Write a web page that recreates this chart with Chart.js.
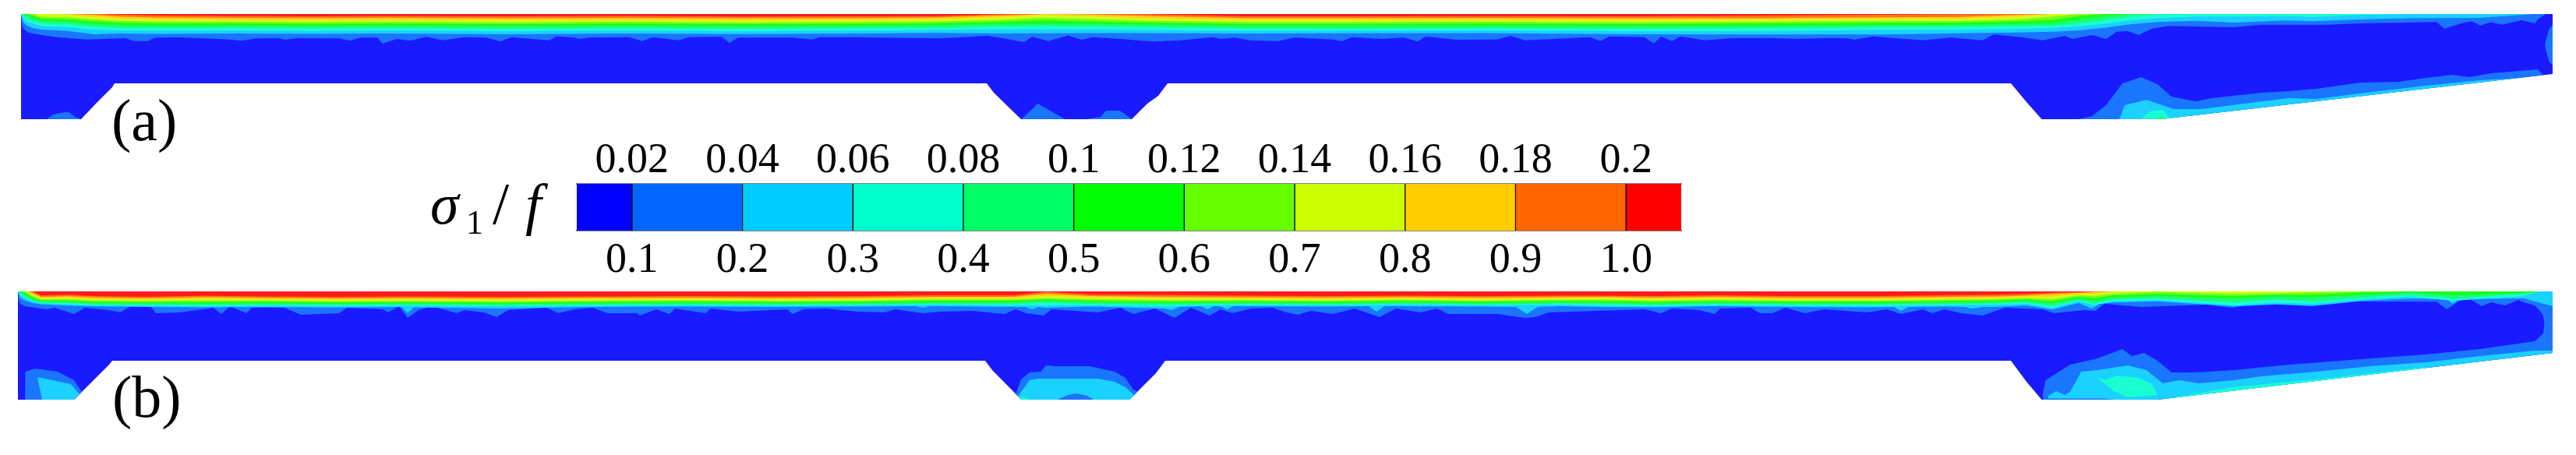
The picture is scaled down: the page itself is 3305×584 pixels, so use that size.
<!DOCTYPE html>
<html>
<head>
<meta charset="utf-8">
<style>
  html, body { margin: 0; padding: 0; background: #fff; }
  #wrap { position: relative; width: 3305px; height: 584px; overflow: hidden; }
  canvas { position: absolute; }
  #field { left: 0; top: 0; }
  #bar { left: 500px; top: 170px; }
</style>
<script src="https://cdn.jsdelivr.net/npm/chart.js@4"></script>
</head>
<body>
<div id="wrap">
  <canvas id="field" width="3305" height="584"></canvas>
  <canvas id="bar" width="1757" height="192"></canvas>
</div>
<script>
// colour levels, low to high
const barColors = ['#0000ff','#0066ff','#00ccff','#00ffcc','#00ff66','#00ff00','#66ff00','#ccff00','#ffcc00','#ff6600','#ff0000'];
const fieldColors = ['#1a1aff','#1a75ff','#1ad1ff','#1affd1','#1aff75','#1aff1a','#75ff1a','#d1ff1a','#ffd11a','#ff751a','#ff1a1a'];
const barEdges = [0.01,0.02,0.04,0.06,0.08,0.1,0.12,0.14,0.16,0.18,0.2,0.21];
const topTicks = [0.02,0.04,0.06,0.08,0.1,0.12,0.14,0.16,0.18,0.2];
const topLabels = ['0.02','0.04','0.06','0.08','0.1','0.12','0.14','0.16','0.18','0.2'];
const bottomTicks = [0.1,0.2,0.3,0.4,0.5,0.6,0.7,0.8,0.9,1.0];
const bottomLabels = ['0.1','0.2','0.3','0.4','0.5','0.6','0.7','0.8','0.9','1.0'];

// panel (a) outline
const topA = 18;
const edgeAX = [27,104,123,144,147,1266,1275,1310,1452,1472,1486,1498,2580,2600,2619.5,2772,3275];
const edgeAY = [153,153,133,112,107,107,119,153,153,133,123,107,107,131,153,153,95];

// panel (a) contours, y at each station, from the top band down
const stationsA = [27,30,35,42,53,87,120,153,200,300,400,500,650,800,950,1100,1200,1280,1338,1400,1470,1600,1731,1900,2100,2270,2410,2516,2586,2633,2667,2700,2733,2767,2817,2867,2933,2967,3033,3100,3180,3252,3275];
const redA    = [18,18,18,18,18,18,18,18.7,20,20.5,21,20.5,21,20.6,21.2,21,20.8,18.5,18,18,18.3,21,21,20.7,21,20,19,18.3,18,18,18,18,18,18,18,18,18,18,18,18,18,18,18];
const orangeA = [18,18,18,18,18,18,19,21.3,22.5,23,23.3,22.8,23.5,23,23.6,23.2,22.5,20,18,18.5,20.5,23.3,23.3,23,23.5,23.3,22.3,21.7,19.3,18,18,18,18,18,18,18,18,18,18,18,18,18,18];
const amberA  = [18,18,18,18,18,18.7,22,24,25,25.7,26,25.5,26.3,25.8,26.2,26,25,22.5,19.3,21,23.5,26,26,25.6,26,25,24.3,24,21.7,18,18,18,18,18,18,18,18,18,18,18,18,18,18];
const yellowA = [18,18,18,18,21.5,22.3,24.7,26.7,27.5,28,28.5,28,28.7,28,28.7,28.3,27.5,25.5,22.7,24.5,26.5,28.3,28.3,28,28.5,27.7,26.7,26.7,25,21.3,18,18,18,18,18,18,18,18,18,18,18,18,18];
const limeA   = [18,18,18,20,24,25,27.3,29.3,30,30,30.7,30.3,31,30.3,31,30.7,29.7,28,26,27.5,29,30.7,30.7,30.3,31,30,29.3,29,27.3,25.7,20.7,18,18,18,18,18,18,18,18,18,18,18,18];
const greenA  = [18,18,20,23,26.7,28,30.7,32.3,33,33,33.5,33,33.7,33,33.7,33.3,32.5,31,30.7,30.5,31.5,33.3,33.3,33,33.7,33.3,32.3,31.7,30.7,29.7,25,21.3,18,18,18,18,18,18,18,18,18,18,18];
const springA = [18,20,24,27,30,30.7,34,35.7,36,35.7,36.3,35.8,36.7,36,36.7,36,35.5,34,33,33.8,34.5,36.5,36.7,36,36.7,36,35,34.3,33.3,33,29.7,25.7,21.3,18.7,18,18,18,18,18,18,18,18,18];
const aquaA   = [18,24,28,30,33.3,34.7,38,39,39.5,39,39.7,39,40,39.3,40,39.3,38.5,37.7,37.7,38,38.5,39.5,39.3,39,40,40,38.3,38.3,37.3,35.7,34,30.7,26.3,23.3,21.3,21.3,20.7,21.7,19,18,18,18,18];
const cyanA   = [18,29,33,36,38,39.7,44,43,43.5,43,43.5,43,44,43,43.7,43,42.3,43,42.7,42.5,42.5,43,42.7,42.5,44,44.3,44.3,42.7,41.7,40.7,39,35.7,31.3,28.3,26.7,29,26.3,27.3,24.7,23.3,23,18,18];

// panel (a) spiky edge of the lowest band
const blueAX = [27,28,30,37,53,75,112,161,172,189,200,231,295,309,330,358,365,382,435,449,463,484,491,509,526,547,568,596,624,642,656,694,705,714,737,744,754,807,824,838,870,884,926,936,947,1017,1042,1052,1100,1128,1205,1268,1286,1314,1324,1345,1370,1388,1402,1437,1479,1514,1556,1566,1584,1605,1640,1661,1710,1722,1735,1773,1801,1819,1829,1868,1921,1938,1956,2040,2053,2065,2110,2122,2131,2145,2156,2187,2221,2270,2305,2340,2368,2379,2403,2467,2502,2544,2558,2593,2621,2649,2659,2684,2702,2716,2730,2744,2761,2782,2866,2901,2986,3028,3126,3136,3158,3172,3182,3196,3210,3235,3252,3256,3266];
const blueAY = [18,30,37,42,45,48,50.7,49,52.7,52.7,48.3,48,50.7,52.3,49.3,49,51,49,49.3,52.3,48.3,48.3,56,50,52.3,47.3,51.7,47.7,48.3,53.3,47.7,51,51.7,46.7,48.3,50,48.3,47.7,52.7,47.7,51.7,47.7,47.3,55,48.3,48.3,50.7,47.7,47.7,48.3,49.3,46,49,54,47.3,52.7,45.7,51,47.7,50,53.3,51.7,47.7,50,48.3,51.7,52.7,48.3,50.7,52.7,47.7,50,48.3,53.3,46.7,51,50.7,46,51.7,47.7,52.7,46.7,47.7,55.7,46.7,52.7,46.7,51.7,49,48.7,50,49,49,51,46.7,51.7,48.3,51.7,44.3,47.7,51.7,46,50,45,50,40.7,40,45,36.7,33.3,35,31.7,31.7,30,28.3,36.7,30,27.3,33,28.3,31.7,26,30,25,18];

// panel (a) pockets and the side strip
const blobA1X = [60,68,78,88,96,104];
const blobA1Y = [153,147,145,143.5,150,153];
const blobA2X = [1310.5,1331.5,1366.5];
const blobA2Y = [153,133,153];
const blobA3X = [1394.6,1412,1419,1437,1451];
const blobA3Y = [153,150,142,142,152];
const sideUpperX = [3265,3270,3275];
const sideUpperY = [58,38,32];
const sideLowerY = [58,78,84];
const wedgeBlueAX = [2666.5,2684,2702,2723,2747,2768,2786,2817,2838,2901,2936.6,2972,3028,3077,3112,3147,3168,3196,3245,3256,3263];
const wedgeBlueAY = [153,149,135,107,99,108,124,130,126,119,117,114,106,105,100,96,99,94,90,89,96.5];
const wedgeCyanAX = [2719,2726,2754,2789,2824,2887,2936,2972,3042,3112,3182,3231,3240];
const wedgeCyanAY = [153,135,128,140,140,132,126,127,118,110,103,100,99];
const wedgeAquaAX = [2747,2758,2775,2782,2789];
const wedgeAquaAY = [153,143,141,150,151.5];
const wedgeGreenAX = [2765,2774,2776];
const wedgeGreenAY = [153,149,152.5];

// panel (b) outline
const topB = 374;
const edgeBX = [23,95,120,140,144,1264,1273,1310.5,1449,1469,1483,1495,2580,2600,2619.5,2768,3275];
const edgeBY = [513,513,488,468,463,463,475,513,513,493,479,463,463,490,513,513,453];

// panel (b) contours
const stationsB = [23,26,30,36,42,53,87,120,187,263,340,430,520,640,760,880,1000,1100,1200,1300,1342,1400,1493,1600,1700,1800,1900,2000,2055,2120,2200,2300,2400,2500,2560,2600,2633,2667,2687,2710,2767,2867,2920,2967,3033,3093,3147,3238,3260,3275];
const redB    = [374,374,374,374,374,379.3,378.3,380,381,379.5,380.5,381,380.5,381,380.5,380,380.5,380,379,379,374.5,378,378.5,379.5,380,379.5,380,379.5,379.5,380,379,380,380,379,378.3,377.3,375.7,374.7,374,374,374,374,374,374,374,374,374,374,374,374];
const orangeB = [374,374,374,374,376,381.3,380.3,381.7,382.7,381.5,382.3,383,382.5,383,382.3,382,382.5,382,381,381,377,380,381,381.5,382,381.3,382,381.3,381,382,381,382,382,381,380.5,379.3,377.3,376,374.7,374,374,374,374,374,374,374,374,374,374,374];
const amberB  = [374,374,374,374,378,382.7,382.3,384,384.7,383.5,384,385,384.3,385,384,383.7,384.3,384,382.7,382.7,380,382,383,383.5,384,383,384,383,382.5,384,383,384,384,383,382.5,381,380.7,377.3,377.3,374.7,374,374,374,374,374,374,374,374,374,374];
const yellowB = [374,374,374,376,380,384,384,385.7,386,385.5,385.7,386.5,386,386.7,385.7,385.3,386,385.7,384.3,384.3,382.7,384,385,385,385.7,384.7,385.7,384.7,384.5,385.7,384.7,385.7,385.7,384.7,384,382.7,384,379,380,377.3,374.5,377.3,376.5,375,374,374,374,374,374,374];
const limeB   = [374,374,374,378.5,382,385.7,385.7,387.3,387.7,387.5,387.3,388,387.7,388.3,387.5,387,387.7,387.3,386,386,384.3,386,387,386.7,387.3,386.3,387.3,386.3,386.5,387.5,386.5,387.3,387.3,386.3,385.7,384.3,386.7,381,382.7,379.3,377.3,380,378.3,378.3,375.3,374,374,374,374,374];
const greenB  = [374,374,376,380.5,384,387.3,387.3,389,389,389.5,389,389.7,389.3,390,389.3,388.7,389.3,389,388,388,386,388,389,388.3,389,388,389,388,388.5,389.5,388.3,389,389.3,388,387.5,386,389.3,383.3,385.7,381.7,380,383.3,380.7,381.7,378.3,375.3,379,376,374,374];
const springB = [374,376,378,382.5,385.5,388.3,389,390.7,391,391.5,391,391.5,391,392,391,390.5,391,390.7,389.7,390,388.5,390,391,390,390.7,389.7,390.7,389.5,390.5,391.3,390,390.7,391,390,389.5,388,392.7,385,389.3,384.3,382.7,388.3,384,387.3,381.7,378.3,383,377,374,374];
const aquaB   = [374,379,381,384.5,387,389.3,390.7,392,392.3,393,392.3,393,392.3,393.3,392.5,392,392.3,392,391,392,391.7,391.7,393,391.5,392,391,392,391,392.5,393,391.7,392.5,392.7,391.7,391,390,395.3,386.7,391.7,386.7,385.3,391.7,388.3,390,384,380.7,386,380,374,374];

// cyan edge has its own stations, it carries the narrow spikes
const cyanBX = [23,26,30,36,42,53,87,120,187,263,340,430,515,523,531,640,760,880,1000,1100,1176,1184,1192,1300,1316,1324,1332,1342,1400,1493,1503,1513,1541,1549,1557,1566,1574,1582,1700,1756,1766,1776,1900,1945,1959,1973,2000,2055,2120,2200,2300,2400,2430,2439,2448,2500,2520,2530,2545,2560,2600,2633,2667,2684,2694,2710,2767,2867,2920,2967,3033,3093,3139,3147,3155,3238,3260,3275];
const cyanBY = [374,383,385,387,389,390.7,392.3,393.3,394,394.5,394,394.7,394,402,394.5,396,394,393.5,394,393.5,393,395,393,394,394,397,394,395,393.5,396,398,394,393,397,393,393,397,393,393.5,393,400,393,393.5,394,403,394,393,394,394.5,393,394,394.5,394,399,394,393.5,394,396,394,394,392,397.3,389,396,390,388.3,386.7,393.3,390.7,392.7,386,383.3,384,390,384,383,389,393];

const blueBX = [23,24,26,32,60,70,95,109,140,154,168,193,200,231,274,284,295,316,323,365,386,435,445,491,498,512,523,537,554,586,596,621,637,652,702,716,737,761,779,817,821,842,859,866,905,912,947,1010,1017,1031,1059,1100,1135,1149,1184,1209,1247,1289,1303,1317,1339,1349,1409,1437,1454,1482,1507,1528,1552,1566,1581,1605,1633,1647,1665,1682,1710,1738,1770,1791,1823,1844,1858,1900,1921,1956,1970,1987,2110,2131,2145,2180,2200,2207,2246,2258,2274,2291,2316,2340,2396,2421,2439,2467,2479,2495,2516,2544,2572,2621,2635,2675,2688,2700,2747,2831,2863,2901,2972,3021,3126,3139,3154,3168,3184,3196,3214,3231,3238,3252,3258,3263,3264.5,3265,3275];
const blueBY = [374,385,390,393,397,395,403,395,398,401,393,393,402,401,395,403,393,402,395,395,404,402,395,397,401,393,408,398,393,402,398,401,407,398,395,402,397,395,402,402,405,397,403,396,402,396,400,397,403,397,396,400,401,397,402,400,399,403,397,402,405,397,401,395,403,396,408,395,405,397,402,396,395,400,404,399,403,396,407,396,401,396,403,403,403,408,407,401,397,402,396,398,403,396,395,402,402,395,402,397,401,397,403,397,402,397,402,405,395,397,402,398,399,390,394,391,395,388.3,392,387,387.3,397,387,383,393,388,392,385,388,392,398,405,417,440,440];

// panel (b) pockets
const lowBlueB1X = [32,32.5,45,74,95,105];
const lowBlueB1Y = [513,477,473,477,488,503];
const lowCyanB1X = [48,91,102];
const lowCyanB1Y = [484,493,506];
const lowCyanB1UnderX = [48,54,95,102];
const lowCyanB1UnderY = [484,513,513,506];
const lowBlueB2X = [1303,1310,1321,1335,1342,1356,1398,1430,1444,1454,1460];
const lowBlueB2Y = [507,487,478,477,469,470,470,477,485,500,503];
const lowCyanB2X = [1307,1321,1331,1409,1430,1444,1453,1456];
const lowCyanB2Y = [507,488,486,486,490,497,505,508];
const lowInnerB2X = [1357,1370,1381,1395,1403];
const lowInnerB2Y = [513,507,505,508,513];
const lowAquaB2X = [1310,1316,1322];
const lowAquaB2Y = [509,510,513];
const wedgeBlueBX = [2621,2624.5,2656,2691,2723,2735,2751,2768,2786,2817,2866,2937,3042,3112,3182,3252,3263,3264.5,3275];
const wedgeBlueBY = [505,488,468,460,448,457,453,463,478,478,475,468,460,455,448,438,428,417,417];
const wedgeCyanBX = [2628,2638,2649,2656,2670,2691,2730,2754,2775,2796,2821,2866,2901,2972,3042,3112,3182,3252,3275];
const wedgeCyanBY = [508,502,507,503,477,475,469,475,492,488,492,488,483,477,470,465,457,450,450];
const wedgeFloorBX = [2628,2700,2712];
const wedgeFloorBY = [511.5,511.5,513];
const wedgeAquaBX = [2691,2701,2716,2744,2761,2768];
const wedgeAquaBY = [485,488,482,485,493,507];
const wedgeAquaUnderBX = [2691,2712,2730,2768];
const wedgeAquaUnderBY = [485,502,510,507];
const rimAquaBX = [2790,2866,2980,3112];
const rimAquaBY = [510,496.7,486,471];

const panelLabels = ['(a)', '(b)'];
const panelLabelX = [143, 144];
const panelLabelY = [180, 535];
const titleParts = ['σ', '1', '/', 'f'];
const titleX = [552, 598, 632, 674];
const titleY = [287, 300, 287, 287];

function pts(xs, ys) { return xs.map((x, i) => ({ x: x, y: ys[i] })); }

const datasets = [];
function addCurve(xs, ys, color, fill) {
  datasets.push({
    data: pts(xs, ys),
    backgroundColor: color,
    borderWidth: 0,
    pointRadius: 0,
    tension: 0,
    fill: fill,
    order: -datasets.length
  });
  return datasets.length - 1;
}

const [dark, blue, cyan, aqua, spring, green, lime, yellow, amber, orange, red] = fieldColors;

// panel (a): base, then the pockets, then the bands from the surface
const edgeA = addCurve(edgeAX, edgeAY, dark, { target: { value: topA } });
addCurve(blobA1X, blobA1Y, blue, { target: edgeA });
addCurve(blobA2X, blobA2Y, blue, { target: edgeA });
addCurve(blobA3X, blobA3Y, blue, { target: edgeA });
addCurve(wedgeBlueAX, wedgeBlueAY, blue, { target: edgeA });
addCurve(wedgeCyanAX, wedgeCyanAY, cyan, { target: edgeA });
addCurve(wedgeAquaAX, wedgeAquaAY, aqua, { target: edgeA });
addCurve(wedgeGreenAX, wedgeGreenAY, spring, { target: edgeA });
const sideA = addCurve(sideUpperX, sideLowerY, 'rgba(0,0,0,0)', false);
addCurve(sideUpperX, sideUpperY, blue, { target: sideA });
addCurve(blueAX, blueAY, blue, { target: { value: topA } });
[[cyanA, cyan], [aquaA, aqua], [springA, spring], [greenA, green], [limeA, lime], [yellowA, yellow], [amberA, amber], [orangeA, orange], [redA, red]]
  .forEach(b => addCurve(stationsA, b[0], b[1], { target: { value: topA } }));

// panel (b)
const edgeB = addCurve(edgeBX, edgeBY, dark, { target: { value: topB } });
addCurve(lowBlueB1X, lowBlueB1Y, blue, { target: edgeB });
const underB1 = addCurve(lowCyanB1UnderX, lowCyanB1UnderY, 'rgba(0,0,0,0)', false);
addCurve(lowCyanB1X, lowCyanB1Y, cyan, { target: underB1 });
addCurve(lowBlueB2X, lowBlueB2Y, blue, { target: edgeB });
addCurve(lowCyanB2X, lowCyanB2Y, cyan, { target: edgeB });
addCurve(lowInnerB2X, lowInnerB2Y, blue, { target: edgeB });
addCurve(lowAquaB2X, lowAquaB2Y, aqua, { target: edgeB });
addCurve(wedgeBlueBX, wedgeBlueBY, blue, { target: edgeB });
addCurve(wedgeCyanBX, wedgeCyanBY, cyan, { target: edgeB });
addCurve(wedgeFloorBX, wedgeFloorBY, blue, { target: edgeB });
const underWedgeB = addCurve(wedgeAquaUnderBX, wedgeAquaUnderBY, 'rgba(0,0,0,0)', false);
addCurve(wedgeAquaBX, wedgeAquaBY, aqua, { target: underWedgeB });
addCurve(rimAquaBX, rimAquaBY, aqua, { target: edgeB });
addCurve(blueBX, blueBY, blue, { target: { value: topB } });
addCurve(cyanBX, cyanBY, cyan, { target: { value: topB } });
[[aquaB, aqua], [springB, spring], [greenB, green], [limeB, lime], [yellowB, yellow], [amberB, amber], [orangeB, orange], [redB, red]]
  .forEach(b => addCurve(stationsB, b[0], b[1], { target: { value: topB } }));

// labels sit on the field scales
const fieldText = {
  id: 'fieldText',
  afterDraw(chart) {
    const { ctx, scales } = chart;
    ctx.save();
    ctx.fillStyle = '#000';
    ctx.textBaseline = 'alphabetic';
    ctx.font = '76px "Liberation Serif"';
    panelLabels.forEach((t, i) => {
      ctx.fillText(t, scales.x.getPixelForValue(panelLabelX[i]), scales.y.getPixelForValue(panelLabelY[i]));
    });
    titleParts.forEach((t, i) => {
      ctx.font = i === 1 ? '44px "Liberation Serif"' : (i === 2 ? '76px "Liberation Serif"' : 'italic 74px "Liberation Serif"');
      ctx.fillText(t, scales.x.getPixelForValue(titleX[i]), scales.y.getPixelForValue(titleY[i]));
    });
    ctx.restore();
  }
};

new Chart(document.getElementById('field'), {
  type: 'line',
  data: { datasets: datasets },
  options: {
    responsive: false,
    animation: false,
    layout: { padding: 0 },
    plugins: { legend: { display: false }, tooltip: { enabled: false } },
    scales: {
      x: { type: 'linear', min: 0, max: 3305, display: false },
      y: { type: 'linear', min: 0, max: 584, reverse: true, display: false }
    }
  },
  plugins: [fieldText]
});

// colour bar
const axisFont = { family: '"Liberation Serif"', size: 54 };
new Chart(document.getElementById('bar'), {
  type: 'bar',
  data: {
    labels: ['level'],
    datasets: barColors.map((c, i) => ({
      data: [[barEdges[i], barEdges[i + 1]]],
      backgroundColor: c,
      borderColor: '#000',
      borderWidth: { left: i ? 1 : 0, right: i < barColors.length - 1 ? 1 : 0, top: 0, bottom: 0 },
      borderSkipped: false,
      barPercentage: 1,
      categoryPercentage: 1,
      grouped: false,
      xAxisID: 'xTop'
    }))
  },
  options: {
    indexAxis: 'y',
    responsive: false,
    animation: false,
    layout: { padding: { left: 240, right: 100, top: 0, bottom: 0 } },
    plugins: { legend: { display: false }, tooltip: { enabled: false } },
    scales: {
      y: { display: false },
      xTop: {
        type: 'linear', position: 'top', min: 0.01, max: 0.21,
        grid: { display: false, drawTicks: false },
        border: { display: true, color: '#808080', width: 2 },
        afterBuildTicks: a => { a.ticks = topTicks.map(v => ({ value: v })); },
        afterFit: s => { s.height = 66; },
        ticks: { font: axisFont, color: '#000', padding: -3, autoSkip: false, maxRotation: 0, callback: (v, i) => topLabels[i] }
      },
      xBottom: {
        type: 'linear', position: 'bottom', min: 0.05, max: 1.05,
        grid: { display: false, drawTicks: false },
        border: { display: true, color: '#808080', width: 2 },
        afterBuildTicks: a => { a.ticks = bottomTicks.map(v => ({ value: v })); },
        afterFit: s => { s.height = 66; },
        ticks: { font: axisFont, color: '#000', padding: 6, autoSkip: false, maxRotation: 0, callback: (v, i) => bottomLabels[i] }
      }
    }
  }
});
</script>
</body>
</html>
